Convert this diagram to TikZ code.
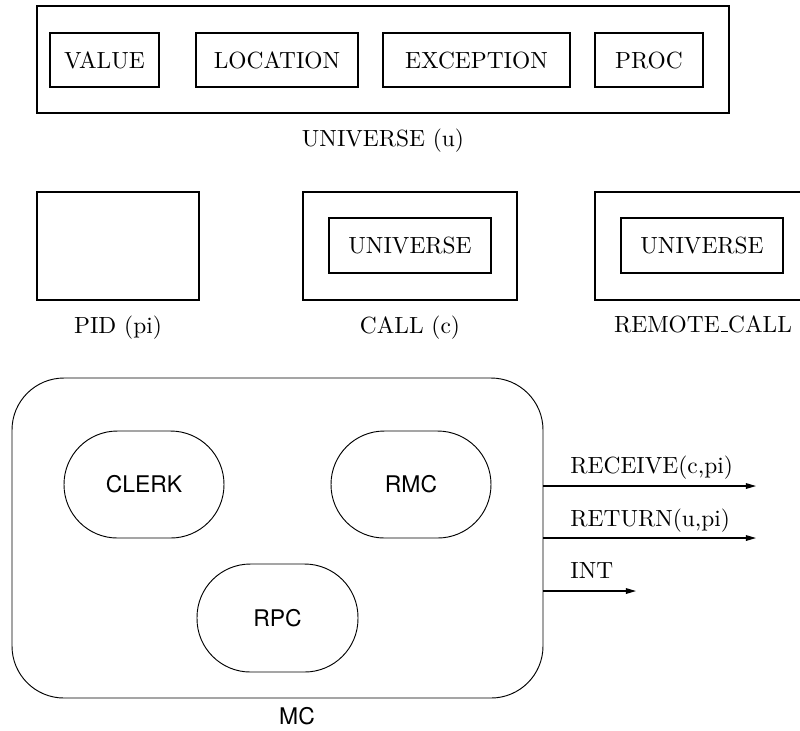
\documentclass[tikz,border=0pt]{standalone}
\usepackage{fontspec}
\newfontfamily\helv{TeX Gyre Heros}
\usetikzlibrary{arrows.meta}
\newlength\pxl
\setlength\pxl{0.4274pt}
\newcommand{\lowbar}{\leavevmode\kern.06em\vbox{\hrule width.3em height 0.4pt}}
\tikzset{
  box/.style={draw, rectangle, inner sep=0pt, line width=0.5pt},
  stad/.style={draw, rectangle, inner sep=0pt, minimum width=160\pxl, minimum height=107\pxl, rounded corners=22.8pt, font=\helv\fontsize{9.8}{11}\selectfont},
  lab/.style={inner sep=0pt, anchor=base},
  outarrow/.style={line width=0.5pt, -{Triangle[length=4.3pt,width=2.4pt]}},
}
\begin{document}
\begin{tikzpicture}[x=\pxl, y=-\pxl]
\useasboundingbox (0,0) rectangle (800,730);
% universe
\node[box, minimum width=692\pxl, minimum height=107\pxl] (univ) at (383,59.5) {};
\node[box, minimum width=109\pxl, minimum height=54\pxl] (value) at (104.5,60) {VALUE};
\node[box, minimum width=162\pxl, minimum height=54\pxl] (loc) at (277,60) {LOCATION};
\node[box, minimum width=187\pxl, minimum height=54\pxl] (exc) at (476.5,60) {EXCEPTION};
\node[box, minimum width=108\pxl, minimum height=54\pxl] (proc) at (649,60) {PROC};
\node[lab] (ulab) at (383,146) {UNIVERSE (u)};
% pid
\node[box, minimum width=162\pxl, minimum height=108\pxl] (pid) at (118,246) {};
\node[lab] (pidlab) at (118,333) {PID (pi)};
% call
\node[box, minimum width=214\pxl, minimum height=108\pxl] (call) at (410,246) {};
\node[box, minimum width=162\pxl, minimum height=55\pxl] (callu) at (410,245.5) {UNIVERSE};
\node[lab] (calllab) at (410,333) {CALL (c)};
% remote call
\node[box, minimum width=214\pxl, minimum height=108\pxl] (rcall) at (702,246) {};
\node[box, minimum width=162\pxl, minimum height=55\pxl] (rcallu) at (702,245.5) {UNIVERSE};
\node[lab] (rcalllab) at (703,332) {REMOTE\lowbar CALL};
% MC
\node[draw, rectangle, inner sep=0pt, minimum width=531\pxl, minimum height=320\pxl, rounded corners=22.2pt] (mc) at (277.5,538) {};
\node[stad] (clerk) at (144,484.5) {CLERK};
\node[stad] (rmc) at (411,484.5) {RMC};
\node[stad, minimum width=161\pxl, minimum height=108\pxl] (rpc) at (277.5,618) {RPC};
\node[lab, font=\helv\fontsize{9.8}{11}\selectfont] (mclab) at (297,724) {MC};
% outputs
\coordinate (r1) at (756,486);
\coordinate (r2) at (756,538);
\coordinate (r3) at (636,591);
\draw[outarrow] (mc.east |- r1) -- (r1);
\draw[outarrow] (mc.east |- r2) -- (r2);
\draw[outarrow] (mc.east |- r3) -- (r3);
\node[lab, anchor=base west] (recv) at (570,473) {RECEIVE(c,pi)};
\node[lab, anchor=base west] (ret) at (570,526) {RETURN(u,pi)};
\node[lab, anchor=base west] (int) at (570,578) {INT};
\end{tikzpicture}
\end{document}
